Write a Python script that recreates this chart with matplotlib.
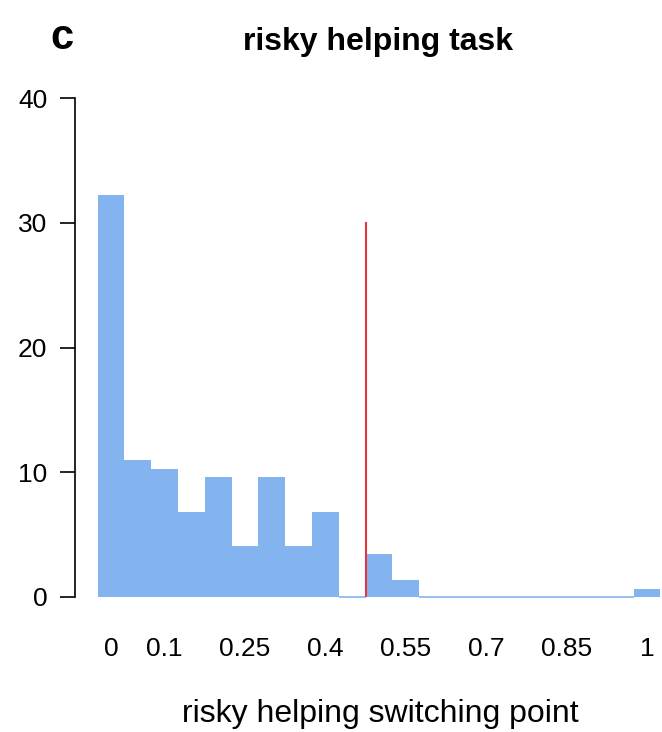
import matplotlib
matplotlib.use("Agg")
import matplotlib.pyplot as plt

plt.rcParams['font.family'] = ['Liberation Sans', 'DejaVu Sans']

# switching point bins (0, 0.05, ..., 1) and percentage of participants
bin_centers = [round(0.05 * i, 2) for i in range(21)]
percent = [32.19, 10.96, 10.27, 6.85, 9.59, 4.11, 9.59, 4.11, 6.85, 0.0,
           3.42, 1.37, 0.0, 0.0, 0.0, 0.0, 0.0, 0.0, 0.0, 0.0, 0.68]
tick_values = [0, 0.1, 0.25, 0.4, 0.55, 0.7, 0.85, 1]
tick_labels = ["0", "0.1", "0.25", "0.4", "0.55", "0.7", "0.85", "1"]
threshold = 0.475
threshold_height = 30

fig = plt.figure(figsize=(6.62, 7.32), dpi=100)
ax = fig.add_axes([75 / 662, 135 / 732, 1 - 75 / 662, 499 / 732])

ax.bar(bin_centers, percent, width=0.05, color="#84B4F0", edgecolor="none",
       clip_on=False)
# zero-height bins still show a thin line in the original
for x, p in zip(bin_centers, percent):
    if p == 0:
        ax.plot([x - 0.025, x + 0.025], [0, 0], color="#84B4F0", lw=1.2,
                clip_on=False, solid_capstyle="butt")

ax.plot([threshold, threshold], [0, threshold_height], color="#E8343F", lw=1.5)

ax.set_xlim(-0.067, 1.028)
ax.set_ylim(0, 40)
ax.set_yticks([0, 10, 20, 30, 40])
ax.set_xticks(tick_values)
ax.set_xticklabels(tick_labels)

for s in ["top", "right", "bottom"]:
    ax.spines[s].set_visible(False)
ax.spines["left"].set_linewidth(1.2)
ax.tick_params(axis="y", length=11, width=1.2, labelsize=19, pad=9)
ax.tick_params(axis="x", length=0, labelsize=19, pad=29)

fig.text(380 / 662, 1 - 714 / 732, "risky helping switching point",
         fontsize=23, ha="center", va="center")
fig.text(378 / 662, 1 - 42 / 732, "risky helping task", fontsize=23,
         fontweight="bold", ha="center", va="center")
fig.text(62 / 662, 1 - 38 / 732, "c", fontsize=30, fontweight="bold",
         ha="center", va="center")

plt.savefig("out.png", dpi=100)
